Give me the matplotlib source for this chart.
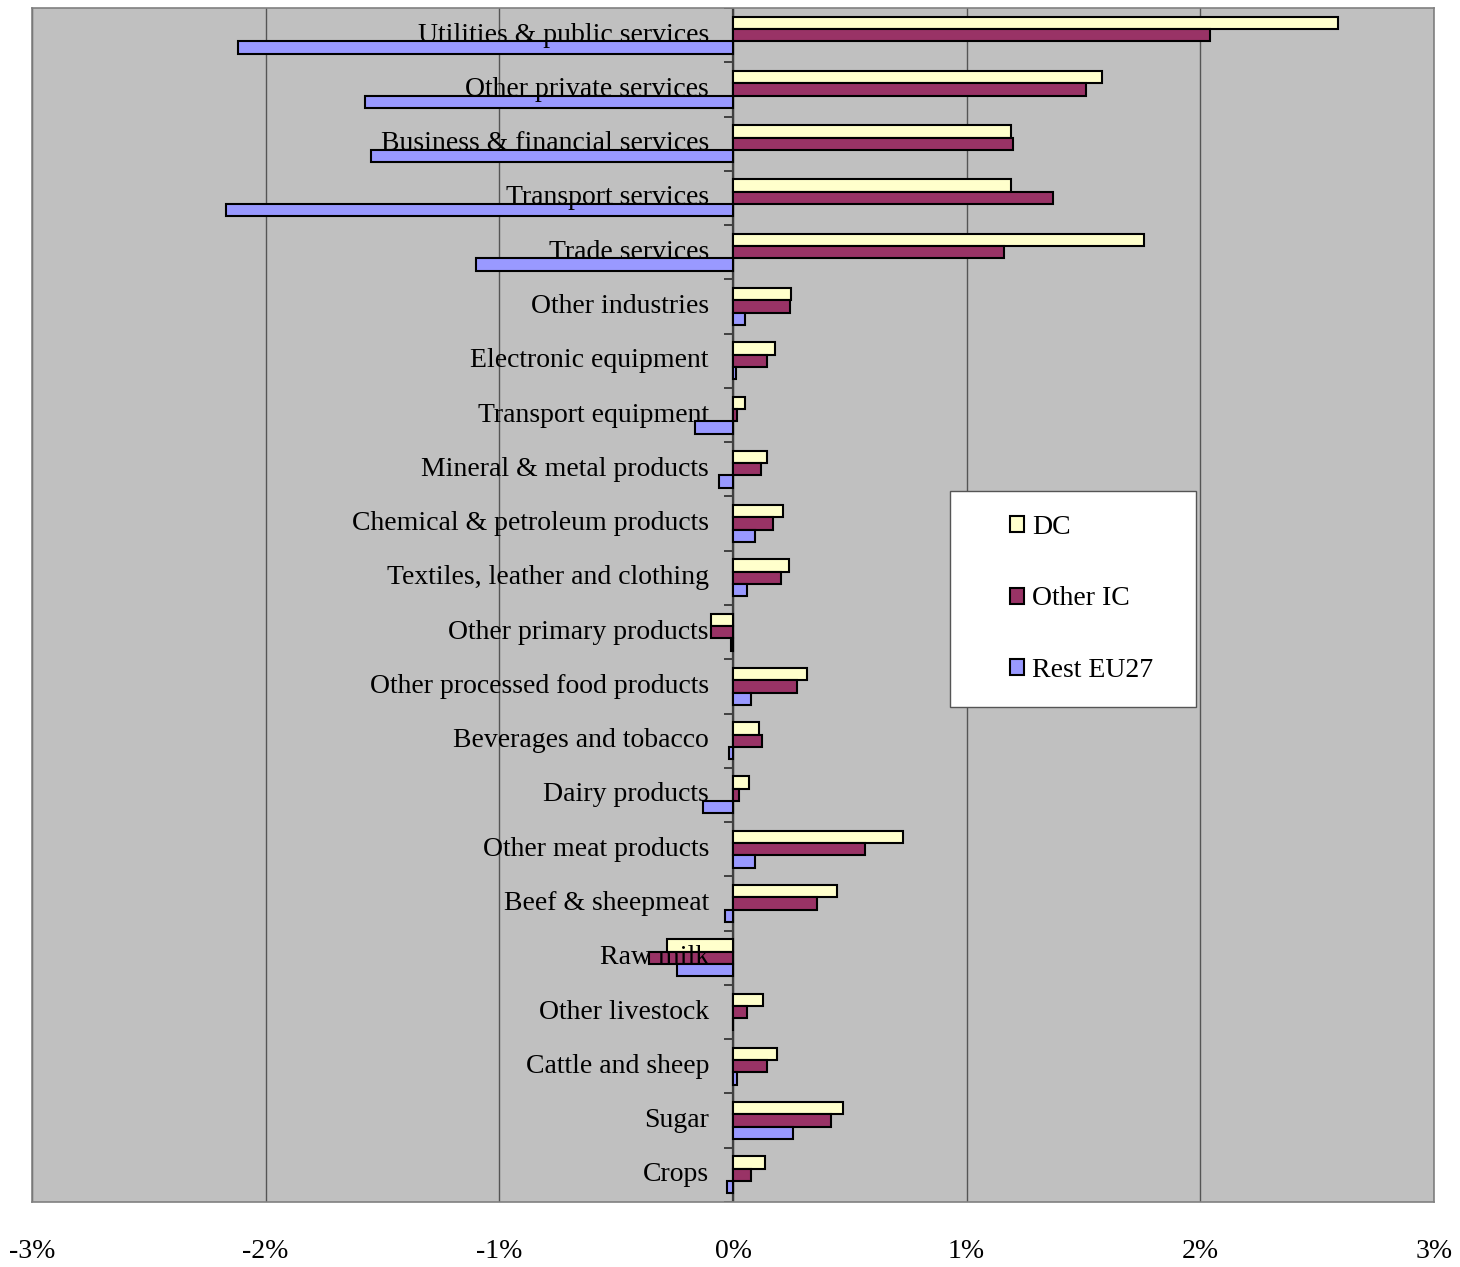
import numpy as np
import matplotlib
matplotlib.use('Agg')
import matplotlib.pyplot as plt
from matplotlib.transforms import offset_copy
from matplotlib.patches import Patch, Rectangle

# sectors, listed from top of chart to bottom
sectors = ['Utilities & public services', 'Other private services',
           'Business & financial services', 'Transport services',
           'Trade services', 'Other industries', 'Electronic equipment',
           'Transport equipment', 'Mineral & metal products',
           'Chemical & petroleum products', 'Textiles, leather and clothing',
           'Other primary products', 'Other processed food products',
           'Beverages and tobacco', 'Dairy products', 'Other meat products',
           'Beef & sheepmeat', 'Raw milk', 'Other livestock',
           'Cattle and sheep', 'Sugar', 'Crops']

# % change per region
dc = [2.59, 1.58, 1.19, 1.19, 1.76, 0.25, 0.18, 0.053, 0.147, 0.215, 0.241,
      -0.093, 0.318, 0.113, 0.07, 0.729, 0.446, -0.281, 0.13, 0.19, 0.472, 0.138]
other_ic = [2.04, 1.51, 1.20, 1.37, 1.16, 0.243, 0.147, 0.019, 0.121, 0.171, 0.207,
            -0.093, 0.275, 0.123, 0.026, 0.566, 0.361, -0.358, 0.06, 0.147, 0.421, 0.078]
rest_eu = [-2.12, -1.575, -1.55, -2.17, -1.10, 0.053, 0.011, -0.161, -0.06, 0.096, 0.06,
           -0.007, 0.078, -0.016, -0.127, 0.094, -0.033, -0.238, 0.0, 0.017, 0.258, -0.026]

series = [('DC', dc, '#FFFFCC'),
          ('Other IC', other_ic, '#993366'),
          ('Rest EU27', rest_eu, '#9999FF')]

plt.rcParams['font.family'] = ['Liberation Serif', 'DejaVu Serif']

W, H = 1460, 1267
fig = plt.figure(figsize=(W / 100, H / 100), dpi=100)
ax = fig.add_axes([32 / W, 1 - 1202 / H, 1402 / W, 1194 / H])
ax.set_facecolor('#C0C0C0')

n = len(sectors)
y = np.arange(n)
h = 0.227
for k, (name, vals, col) in enumerate(series):
    ax.barh(y + (k - 1) * h, vals, height=h, color=col, edgecolor='black',
            linewidth=1.5, label=name, zorder=3)

ax.set_xlim(-3, 3)
ax.set_ylim(n - 0.5, -0.5)

# gridlines and the zero axis with its category ticks
ax.set_xticks(np.arange(-3, 4))
ax.set_xticklabels(['%d%%' % v for v in range(-3, 4)])
ax.tick_params(axis='x', length=0, pad=27, labelsize=20)
ax.grid(axis='x', color='#555555', linewidth=1.0, zorder=1)
ax.set_yticks([])
ax.axvline(0, color='#404040', linewidth=1.6, zorder=2)
ax.hlines(np.arange(n + 1) - 0.5, -0.04, 0, color='#404040', linewidth=1.4, zorder=2)

for s in ax.spines.values():
    s.set_color('#808080')
    s.set_linewidth(1.2)

# category labels sit just left of the zero axis
tr = offset_copy(ax.transData, fig=fig, x=-24, y=0, units='dots')
for i, name in enumerate(sectors):
    ax.text(0, i, name, transform=tr, ha='right', va='center', fontsize=20, zorder=5)

# legend box
fig.patches.append(Rectangle((950 / W, 1 - 707 / H), 246 / W, 216 / H,
                             transform=fig.transFigure, facecolor='white',
                             edgecolor='#555555', linewidth=1.0, zorder=6))
handles = [Patch(facecolor=c, edgecolor='black', linewidth=1.5, label=nm)
           for nm, _, c in series]
leg = fig.legend(handles=handles, loc='center left',
                 bbox_to_anchor=(1010 / W, 1 - 599 / H),
                 frameon=False, fontsize=20,
                 handlelength=0.52, handleheight=0.52, handletextpad=0.28,
                 labelspacing=1.68, borderpad=0, borderaxespad=0)
leg.set_zorder(7)

fig.savefig('out.png', dpi=100)
